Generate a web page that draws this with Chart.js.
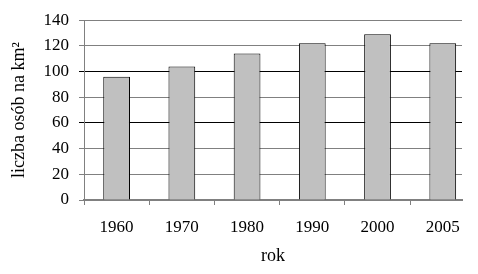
<!DOCTYPE html>
<html>
<head>
<meta charset="utf-8">
<script src="https://cdn.jsdelivr.net/npm/chart.js@4/dist/chart.umd.min.js"></script>
<style>
  html, body { margin: 0; padding: 0; background: #fff; }
  #wrap { width: 478px; height: 274px; }
</style>
</head>
<body>
<div id="wrap"><canvas id="densityChart"></canvas></div>
<script>
// gęstość zaludnienia
const years = ['1960', '1970', '1980', '1990', '2000', '2005'];
const density = [96, 104, 114, 122, 129, 122];
const yTicks = [0, 20, 40, 60, 80, 100, 120, 140];

const serif = '"Liberation Serif", "Times New Roman", serif';

new Chart(document.getElementById('densityChart'), {
  type: 'bar',
  data: {
    datasets: [{
      data: density.map((v, i) => ({ x: i, y: v })),
      backgroundColor: '#c0c0c0',
      borderColor: '#000',
      borderWidth: 1,
      barPercentage: 1,
      categoryPercentage: 0.41
    }]
  },
  options: {
    responsive: true,
    maintainAspectRatio: false,
    animation: false,
    layout: { padding: { top: 8, right: 16, left: 0, bottom: 0 } },
    plugins: {
      legend: { display: false },
      tooltip: { enabled: false }
    },
    scales: {
      x: {
        type: 'linear',
        offset: false,
        min: -0.5,
        max: 5.295,
        afterBuildTicks: s => { s.ticks = years.map((y, i) => ({ value: i })); },
        afterFit: s => { s.height = 74; },
        ticks: {
          callback: v => years[v],
          autoSkip: false,
          maxRotation: 0,
          padding: 12,
          color: '#000',
          font: { family: serif, size: 17 }
        },
        grid: {
          offset: true,
          drawOnChartArea: false,
          tickLength: 5,
          color: '#808080'
        },
        border: { color: '#808080', width: 2 },
        title: {
          display: true,
          text: 'rok',
          color: '#000',
          font: { family: serif, size: 18 },
          padding: { top: 0, bottom: 7 }
        }
      },
      y: {
        min: 0,
        max: 140,
        afterBuildTicks: s => { s.ticks = yTicks.map(v => ({ value: v })); },
        afterFit: s => { s.width = 84; },
        ticks: {
          padding: 10,
          color: '#000',
          font: { family: serif, size: 17 }
        },
        grid: {
          tickLength: 5,
          color: c => (c.tick && (c.tick.value === 100 || c.tick.value === 60)) ? '#000' : '#808080'
        },
        border: { color: '#808080', width: 1 },
        title: {
          display: true,
          text: 'liczba osób na km²',
          color: '#000',
          font: { family: serif, size: 18 },
          padding: { top: 8, bottom: 0 }
        }
      }
    }
  }
});
</script>
</body>
</html>
